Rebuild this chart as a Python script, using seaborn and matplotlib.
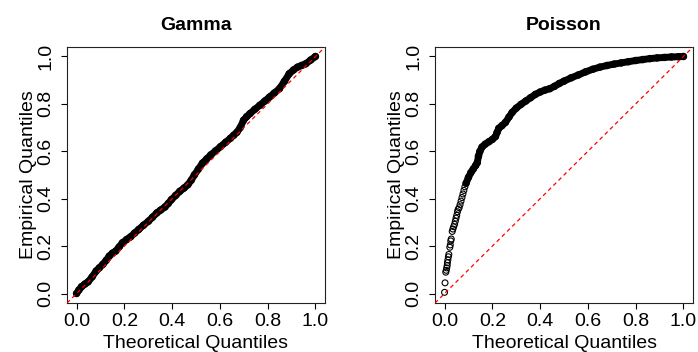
import matplotlib
matplotlib.use("Agg")
import matplotlib.pyplot as plt
import pandas as pd
import seaborn as sns

# ---- data ----
titles = ["Gamma", "Poisson"]
tick_values = [0.0, 0.2, 0.4, 0.6, 0.8, 1.0]
tick_labels = ["0.0", "0.2", "0.4", "0.6", "0.8", "1.0"]
x_label = "Theoretical Quantiles"
y_label = "Empirical Quantiles"

gamma_theoretical = [0.000, 0.010, 0.021, 0.035, 0.048, 0.065, 0.082, 0.095, 0.110, 0.124,
                     0.137, 0.150, 0.164, 0.178, 0.192, 0.210, 0.226, 0.243, 0.260, 0.280,
                     0.301, 0.318, 0.336, 0.352, 0.370, 0.384, 0.397, 0.415, 0.432, 0.450,
                     0.466, 0.480, 0.493, 0.510, 0.527, 0.545, 0.562, 0.582, 0.603, 0.624,
                     0.644, 0.658, 0.671, 0.685, 0.699, 0.712, 0.726, 0.746, 0.767, 0.788,
                     0.808, 0.828, 0.849, 0.870, 0.890, 0.908, 0.925, 0.942, 0.959, 0.980,
                     1.000]
gamma_empirical = [0.000, 0.015, 0.029, 0.040, 0.049, 0.070, 0.095, 0.108, 0.123, 0.140,
                   0.158, 0.170, 0.179, 0.196, 0.214, 0.228, 0.239, 0.255, 0.270, 0.288,
                   0.305, 0.322, 0.340, 0.352, 0.365, 0.380, 0.396, 0.414, 0.431, 0.445,
                   0.459, 0.478, 0.500, 0.525, 0.550, 0.568, 0.585, 0.602, 0.620, 0.638,
                   0.655, 0.668, 0.680, 0.700, 0.731, 0.746, 0.759, 0.777, 0.794, 0.812,
                   0.829, 0.846, 0.864, 0.895, 0.927, 0.943, 0.955, 0.962, 0.969, 0.985,
                   1.000]

poisson_sparse_theoretical = [0.000, 0.002, 0.005, 0.007, 0.009, 0.011, 0.012, 0.014, 0.016,
                              0.018, 0.022, 0.024, 0.026, 0.028, 0.032, 0.035, 0.038, 0.042,
                              0.045, 0.048, 0.051, 0.054, 0.057, 0.061, 0.065, 0.069, 0.073,
                              0.077, 0.081, 0.085]
poisson_sparse_empirical = [0.005, 0.045, 0.090, 0.098, 0.108, 0.118, 0.130, 0.142, 0.155,
                            0.165, 0.195, 0.205, 0.222, 0.230, 0.262, 0.272, 0.282, 0.292,
                            0.305, 0.318, 0.330, 0.345, 0.355, 0.362, 0.375, 0.390, 0.405,
                            0.420, 0.435, 0.450]

poisson_theoretical = [0.090, 0.100, 0.110, 0.120, 0.130, 0.137, 0.142, 0.148, 0.157, 0.170,
                       0.185, 0.200, 0.213, 0.220, 0.227, 0.240, 0.255, 0.270, 0.283, 0.300,
                       0.320, 0.340, 0.360, 0.380, 0.400, 0.420, 0.440, 0.460, 0.480, 0.500,
                       0.530, 0.560, 0.590, 0.620, 0.650, 0.680, 0.710, 0.740, 0.770, 0.800,
                       0.830, 0.860, 0.890, 0.920, 0.950, 0.980, 1.000]
poisson_empirical = [0.465, 0.490, 0.510, 0.525, 0.540, 0.552, 0.580, 0.600, 0.618, 0.630,
                     0.640, 0.650, 0.662, 0.680, 0.697, 0.708, 0.722, 0.745, 0.764, 0.782,
                     0.798, 0.812, 0.826, 0.840, 0.850, 0.858, 0.864, 0.874, 0.886, 0.896,
                     0.910, 0.922, 0.935, 0.946, 0.955, 0.962, 0.968, 0.973, 0.978, 0.983,
                     0.987, 0.991, 0.994, 0.996, 0.998, 0.999, 1.000]

# ---- style ----
sns.set_theme(style="white")
plt.rcParams['font.family'] = ['Liberation Sans', 'DejaVu Sans']
plt.rcParams['text.color'] = 'black'
plt.rcParams['axes.labelcolor'] = 'black'
plt.rcParams['xtick.color'] = 'black'
plt.rcParams['ytick.color'] = 'black'

W, H = 698, 352
fig = plt.figure(figsize=(W / 100, H / 100), dpi=100)
boxes = [(67, 47, 325, 303), (435, 47, 693, 303)]
axes = [fig.add_axes([l / W, 1 - b / H, (r - l) / W, (b - t) / H]) for (l, t, r, b) in boxes]

panels = [
    (pd.DataFrame({"x": gamma_theoretical, "y": gamma_empirical}), None),
    (pd.DataFrame({"x": poisson_theoretical, "y": poisson_empirical}),
     pd.DataFrame({"x": poisson_sparse_theoretical, "y": poisson_sparse_empirical})),
]

for ax, title, (dense, sparse) in zip(axes, titles, panels):
    # dense band of overlapping points
    sns.lineplot(data=dense, x="x", y="y", ax=ax, color="black", lw=5.0,
                 sort=False, estimator=None, solid_capstyle="round",
                 solid_joinstyle="round", zorder=2)
    sns.scatterplot(data=dense, x="x", y="y", ax=ax, marker="o", s=20,
                    facecolor="none", edgecolor="black", linewidth=0.9, zorder=3)
    if sparse is not None:
        sns.scatterplot(data=sparse, x="x", y="y", ax=ax, marker="o", s=18,
                        facecolor="none", edgecolor="black", linewidth=0.8, zorder=3)
    # reference diagonal
    ax.plot([-0.04, 1.04], [-0.04, 1.04], color="#ff0000", lw=0.9,
            dashes=(3.2, 2.6), zorder=4)

    ax.set_xlim(-0.04, 1.04)
    ax.set_ylim(-0.04, 1.04)
    ax.set_xticks(tick_values)
    ax.set_xticklabels(tick_labels)
    ax.set_yticks(tick_values)
    ax.set_yticklabels(tick_labels, rotation=90, va="center")
    ax.tick_params(axis="both", direction="out", length=4, width=0.8,
                   labelsize=14, left=True, bottom=True)
    ax.tick_params(axis="x", pad=3.5)
    ax.tick_params(axis="y", pad=5)
    for sp in ax.spines.values():
        sp.set_visible(True)
        sp.set_color("#222222")
        sp.set_linewidth(0.8)
    ax.grid(False)
    ax.set_xlabel(x_label, fontsize=14, labelpad=3.5)
    ax.set_ylabel(y_label, fontsize=14, labelpad=0.5)
    ax.set_title(title, fontsize=14, fontweight="bold", pad=12)

fig.savefig("out.png", dpi=100)
